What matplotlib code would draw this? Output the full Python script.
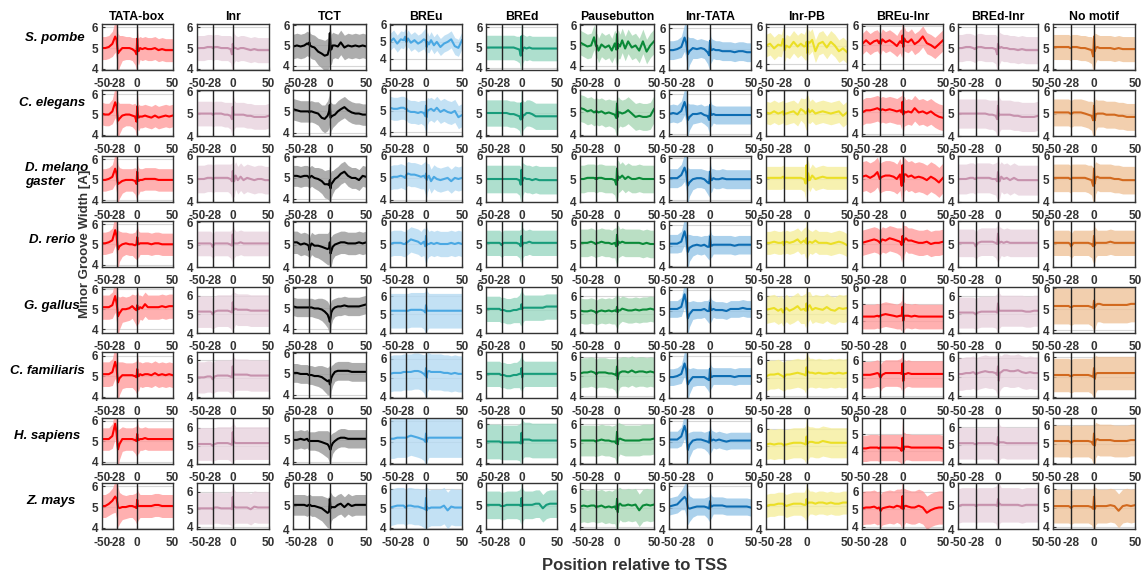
import numpy as np
import matplotlib.pyplot as plt

plt.rcParams['font.family'] = ['Liberation Sans', 'DejaVu Sans']

# Datos: posiciones relativas al TSS (rejilla de lectura)
POS = [-50, -45, -40, -35, -31, -29, -28, -27, -25, -21,
       -16, -11, -7, -3, -1, 0, 1, 2, 4, 7,
       11, 15, 20, 25, 30, 35, 40, 45, 50]

MOTIFS = ['TATA-box', 'Inr', 'TCT', 'BREu', 'BREd', 'Pausebutton',
          'Inr-TATA', 'Inr-PB', 'BREu-Inr', 'BREd-Inr', 'No motif']
SPECIES = ['S. pombe', 'C. elegans', 'D. melano\ngaster', 'D. rerio',
           'G. gallus', 'C. familiaris', 'H. sapiens', 'Z. mays']

# anchura media del surco menor, una lista por especie
TATA_BOX = [
    [5.0,5.0,5.05,5.2,5.55,5.4,5.0,4.75,4.85,5.0, 5.0,5.0,4.95,4.85,4.7,5.45,5.0,4.85,5.0,4.95, 5.0,4.95,4.95,5.0,4.9,4.95,4.9,4.9,4.9],
    [5.05,5.0,5.0,5.15,5.6,5.4,5.0,4.7,4.8,4.95, 5.0,5.0,4.95,4.9,4.65,5.4,5.0,4.85,4.9,4.9, 4.95,4.9,4.85,4.95,4.85,4.9,4.95,4.9,4.95],
    [5.0,5.0,5.05,5.15,5.55,5.3,4.95,4.8,4.85,4.95, 5.0,5.0,5.0,4.95,4.8,5.4,5.0,4.95,5.0,5.0, 5.05,5.05,5.05,5.05,5.0,5.0,5.0,5.0,5.0],
    [5.05,5.05,5.1,5.2,5.7,5.4,5.0,4.75,4.9,5.0, 5.05,5.0,5.0,4.95,5.0,5.35,5.05,5.0,5.05,5.05, 5.05,5.05,5.0,5.05,5.05,5.0,5.0,5.0,5.0],
    [5.1,5.1,5.1,5.2,5.65,5.3,5.0,4.65,4.8,5.0, 5.0,5.05,5.15,5.0,4.95,5.2,5.05,5.0,5.1,5.05, 5.25,5.1,5.1,5.1,5.1,5.15,5.1,5.15,5.15],
    [5.1,5.1,5.1,5.2,5.7,5.4,5.0,4.7,4.9,5.05, 5.05,5.05,5.05,5.0,4.95,5.35,5.05,5.0,5.1,5.05, 5.1,5.1,5.05,5.15,5.05,5.1,5.05,5.1,5.05],
    [5.1,5.1,5.1,5.25,5.85,5.4,4.95,4.6,4.85,5.1, 5.1,5.1,5.1,5.05,5.0,5.35,5.1,5.05,5.1,5.1, 5.15,5.1,5.1,5.1,5.1,5.1,5.1,5.1,5.1],
    [5.05,5.05,5.15,5.3,5.5,5.4,5.2,5.0,4.95,5.0, 5.0,5.05,5.05,5.0,4.95,5.35,5.05,5.05,5.05,5.05, 5.05,5.05,5.05,5.1,5.1,5.05,5.05,5.05,5.05],
]
INR = [
    [5.0,5.0,5.0,5.05,5.05,5.05,5.0,5.0,5.05,5.05, 5.0,5.0,5.0,4.95,4.7,5.2,5.05,5.0,5.0,4.95, 5.0,5.0,4.95,4.9,4.95,4.9,4.9,4.9,4.9],
    [5.0,5.0,5.0,5.0,5.0,5.0,4.95,4.95,5.0,5.0, 5.0,4.95,4.95,4.9,4.75,5.3,5.0,4.95,4.95,4.95, 4.95,4.95,4.9,4.9,4.85,4.85,4.85,4.85,4.9],
    [5.0,5.0,5.0,5.05,5.05,5.05,5.0,5.0,5.05,5.05, 5.05,5.05,5.05,5.0,4.9,5.35,5.1,4.9,5.15,4.95, 5.1,4.95,5.05,5.0,4.95,5.0,5.0,4.95,4.95],
    [5.05,5.05,5.05,5.05,5.05,5.0,4.9,4.95,5.05,5.05, 5.05,5.05,5.05,5.0,4.95,5.45,5.1,5.05,5.05,5.05, 5.1,5.05,5.05,5.05,5.05,5.05,5.05,5.05,5.05],
    [5.15,5.15,5.15,5.15,5.15,5.1,5.0,5.05,5.15,5.2, 5.2,5.2,5.2,5.15,5.1,5.65,5.3,5.25,5.3,5.25, 5.25,5.25,5.25,5.2,5.2,5.2,5.2,5.2,5.2],
    [5.05,5.05,5.05,5.1,5.1,5.05,4.95,5.0,5.1,5.15, 5.15,5.15,5.15,5.1,5.05,5.65,5.25,5.2,5.2,5.2, 5.2,5.2,5.2,5.15,5.15,5.15,5.15,5.15,5.15],
    [5.1,5.1,5.1,5.1,5.1,5.05,5.0,5.05,5.1,5.15, 5.15,5.15,5.15,5.1,5.05,5.75,5.25,5.2,5.15,5.15, 5.15,5.15,5.15,5.15,5.15,5.15,5.15,5.15,5.15],
    [5.05,5.05,5.05,5.05,5.05,5.05,5.0,5.05,5.1,5.1, 5.05,5.05,5.05,5.05,5.0,5.7,5.2,5.15,5.1,5.1, 5.1,5.1,5.1,5.0,5.15,5.1,5.1,5.1,5.1],
]
TCT = [
    [4.95,5.0,4.95,5.0,5.1,5.05,5.15,5.0,4.95,4.9, 4.7,4.6,4.5,4.55,4.8,5.6,4.95,4.8,5.0,5.0, 4.95,5.15,4.9,5.0,4.95,5.0,4.95,5.0,4.95],
    [5.1,5.05,5.0,5.0,5.0,5.0,4.95,5.0,5.0,4.95, 4.9,4.7,4.65,4.8,5.0,5.3,4.7,4.75,4.8,4.85, 5.0,5.1,5.2,5.05,4.95,4.9,4.9,4.85,4.85],
    [5.1,5.1,5.05,5.1,5.1,5.05,5.0,5.05,5.1,5.0, 4.95,4.85,4.7,4.7,4.65,4.9,4.5,4.7,4.8,4.95, 5.05,5.2,5.3,5.1,5.0,5.0,4.9,5.1,5.05],
    [5.1,5.1,5.0,5.05,5.0,4.95,4.75,4.9,5.05,4.95, 4.95,4.9,4.85,4.8,4.85,5.1,4.6,4.7,4.9,5.0, 5.05,5.1,5.1,5.05,5.05,5.05,5.1,5.05,5.1],
    [5.1,5.05,5.05,5.05,5.05,5.05,5.05,5.05,5.05,5.0, 5.0,4.95,4.85,4.7,4.5,4.35,4.55,4.8,4.95,5.05, 5.1,5.1,5.15,5.1,5.1,5.1,5.1,5.15,5.2],
    [5.05,5.05,5.0,5.0,5.0,4.95,4.95,4.95,4.95,4.9, 4.9,4.85,4.75,4.65,4.7,4.5,4.6,4.8,4.95,5.1, 5.15,5.15,5.15,5.15,5.1,5.1,5.1,5.1,5.1],
    [5.0,5.0,5.05,5.0,5.05,4.95,4.95,4.95,4.95,4.95, 4.95,4.9,4.85,4.8,4.7,4.6,4.55,4.7,4.85,4.95, 5.05,5.1,5.1,5.05,5.05,5.05,5.05,5.05,5.05],
    [5.05,5.05,5.05,5.05,5.0,5.05,5.05,5.05,5.0,5.0, 4.95,4.9,4.8,4.7,4.75,5.3,4.9,4.95,4.95,4.95, 5.05,5.1,4.95,5.1,5.0,5.05,5.05,5.05,5.05],
]
BREU = [
    [5.0,5.2,4.9,5.15,5.1,5.3,5.05,5.0,5.2,4.95, 5.1,4.9,5.0,5.15,5.1,5.0,4.7,5.0,4.85,5.1, 4.8,5.0,4.7,4.9,5.0,5.15,4.75,4.65,5.1],
    [5.15,5.1,5.1,5.15,5.15,5.1,5.1,5.1,5.0,4.95, 4.95,4.9,4.95,4.9,4.75,5.25,4.7,5.0,5.05,5.1, 5.0,5.15,4.95,5.05,4.95,4.9,5.0,4.7,4.8],
    [5.0,5.05,5.05,5.1,5.05,5.0,5.1,5.15,5.2,5.15, 5.15,5.1,5.05,5.1,5.0,5.2,4.9,5.0,5.1,4.85, 5.05,4.95,4.9,4.95,5.0,4.85,5.0,4.95,5.0],
    [5.0,5.05,5.05,5.05,5.0,5.0,5.05,5.05,5.1,5.2, 5.15,5.1,5.0,5.1,4.9,5.35,4.95,5.0,5.0,5.05, 5.0,5.05,5.0,5.0,5.0,5.05,5.0,5.05,5.0],
    [5.2,5.2,5.2,5.2,5.2,5.2,5.2,5.2,5.2,5.25, 5.25,5.25,5.25,5.2,5.1,5.5,5.25,5.2,5.2,5.2, 5.2,5.2,5.2,5.2,5.2,5.2,5.2,5.2,5.2],
    [5.2,5.25,5.25,5.25,5.3,5.3,5.3,5.3,5.3,5.3, 5.35,5.35,5.3,5.2,5.1,5.5,5.0,5.3,5.35,5.3, 5.3,5.3,5.3,5.25,5.25,5.2,5.25,5.2,5.2],
    [5.15,5.15,5.2,5.2,5.2,5.2,5.2,5.2,5.25,5.3, 5.25,5.2,5.15,5.1,5.0,5.4,5.0,5.15,5.2,5.2, 5.2,5.2,5.2,5.2,5.2,5.2,5.2,5.2,5.2],
    [5.05,5.1,5.15,5.15,5.15,5.05,5.05,5.1,5.15,5.15, 5.1,5.1,5.05,5.0,4.95,5.55,4.9,5.05,5.0,5.05, 5.05,5.05,5.05,5.15,4.9,5.1,5.05,5.05,5.05],
]
BRED = [
    [5.0,5.0,5.0,5.0,5.0,5.0,5.0,5.0,5.0,5.0, 5.0,5.0,4.95,4.9,4.6,5.55,4.8,4.95,5.0,4.95, 5.0,4.95,4.95,4.95,4.95,4.95,4.95,4.95,4.95],
    [5.0,5.0,5.0,5.0,5.0,5.0,5.0,5.0,5.0,5.0, 4.95,4.95,4.9,4.85,4.7,5.45,4.75,4.9,4.9,5.0, 5.0,4.95,4.85,4.85,4.85,4.85,4.85,4.85,4.85],
    [5.0,5.0,5.0,5.0,5.0,5.0,5.0,5.0,5.0,5.0, 5.0,5.0,5.0,4.95,4.75,5.4,4.9,5.0,5.05,5.0, 5.0,4.95,5.0,4.95,4.95,4.95,4.95,4.95,4.95],
    [5.05,5.05,5.05,5.05,5.05,5.0,4.95,5.0,5.05,5.05, 5.05,5.05,5.05,5.0,4.9,5.35,4.95,5.05,5.05,5.05, 5.1,5.05,5.05,5.05,5.05,5.05,5.05,5.05,5.05],
    [5.05,5.05,5.05,5.05,5.05,5.0,5.0,5.0,5.0,4.95, 4.95,5.0,5.0,5.05,5.05,5.25,5.05,5.1,5.1,5.1, 5.1,5.1,5.1,5.1,5.1,5.15,5.15,5.15,5.15],
    [5.05,5.05,5.05,5.05,5.05,5.0,5.0,5.0,5.0,4.95, 4.95,5.0,5.0,5.05,5.05,5.3,4.9,5.05,5.05,5.05, 5.05,5.05,5.05,5.05,5.05,5.05,5.05,5.05,5.05],
    [5.1,5.1,5.1,5.1,5.1,5.05,5.05,5.05,5.05,5.05, 5.05,5.05,5.05,5.05,5.0,5.55,5.0,5.2,5.2,5.2, 5.2,5.15,5.15,5.15,5.15,5.15,5.15,5.15,5.15],
    [5.05,5.05,5.05,5.05,5.05,5.0,5.0,5.0,5.0,5.05, 5.05,5.05,5.05,5.05,5.0,5.35,5.0,5.05,5.05,5.05, 5.05,5.05,5.1,5.1,4.9,5.05,5.1,5.1,5.1],
]
PAUSEBUTTON = [
    [5.15,5.05,4.95,5.0,5.4,5.05,4.95,5.0,4.75,5.05, 4.9,5.0,4.75,5.1,4.8,5.55,4.85,5.05,4.95,5.25, 4.85,5.2,4.9,5.0,4.75,5.2,4.7,5.0,5.2],
    [5.2,5.15,5.05,5.1,5.0,5.05,5.0,5.05,5.0,5.05, 4.95,5.0,4.95,4.9,4.75,5.4,4.8,5.0,5.0,4.95, 5.0,5.1,4.95,4.8,4.85,4.8,4.8,4.85,5.15],
    [5.0,5.0,5.05,5.05,5.05,5.0,5.05,5.0,5.05,5.05, 5.0,5.0,5.0,4.95,4.75,5.45,4.95,5.1,5.05,5.15, 5.0,5.1,5.0,5.0,5.05,5.0,5.0,5.0,5.0],
    [5.05,5.05,5.05,5.1,5.05,5.0,5.0,5.05,5.05,5.1, 5.05,5.05,5.0,5.05,4.9,5.4,4.95,5.1,5.05,5.1, 5.05,5.05,5.05,5.05,5.05,5.0,5.05,5.0,5.0],
    [5.2,5.15,5.15,5.2,5.15,5.1,5.05,5.1,5.15,5.2, 5.15,5.2,5.15,5.2,5.15,5.4,5.1,5.2,5.2,5.3, 5.25,5.2,5.2,5.25,5.2,5.25,5.25,5.3,5.25],
    [5.15,5.2,5.2,5.25,5.2,5.15,5.1,5.15,5.2,5.2, 5.2,5.15,5.15,5.1,5.05,5.5,4.85,5.1,5.2,5.25, 5.25,5.2,5.3,5.2,5.25,5.25,5.2,5.25,5.2],
    [5.15,5.15,5.15,5.15,5.15,5.1,5.1,5.15,5.15,5.2, 5.15,5.15,5.1,5.1,5.0,5.6,4.95,5.2,5.25,5.2, 5.15,5.15,5.15,5.15,5.15,5.2,5.2,5.2,5.25],
    [5.1,5.15,5.1,5.15,5.15,5.1,5.05,5.1,5.1,5.15, 5.05,5.1,5.05,5.1,4.95,5.5,4.8,5.15,5.25,5.15, 5.15,5.2,5.15,5.2,4.9,5.15,5.2,5.15,5.2],
]
INR_TATA = [
    [4.95,4.95,5.0,5.1,5.55,5.3,5.0,4.75,4.9,5.05, 5.0,5.05,5.0,4.85,4.7,5.4,4.95,4.95,5.0,4.95, 4.95,4.9,4.9,4.9,4.85,4.9,4.9,4.85,4.85],
    [5.0,5.05,5.0,5.15,5.6,5.3,4.95,4.7,4.85,5.0, 5.0,5.05,4.95,4.9,4.7,5.45,5.0,4.95,5.0,4.95, 4.95,4.95,4.95,4.95,4.95,4.95,4.95,4.95,4.95],
    [5.05,5.05,5.05,5.2,5.55,5.3,4.95,4.7,4.85,5.0, 5.05,5.05,5.0,4.85,4.8,5.35,5.0,4.95,5.05,5.0, 5.0,5.05,5.0,5.0,5.0,5.0,5.0,5.0,5.0],
    [5.1,5.1,5.1,5.2,5.7,5.35,5.0,4.7,4.9,5.0, 5.05,5.0,5.05,4.95,4.95,5.45,5.05,5.0,5.05,5.05, 5.05,5.05,5.05,5.05,5.0,5.05,5.05,5.05,5.05],
    [5.1,5.1,5.1,5.2,5.8,5.4,5.0,4.65,4.85,5.05, 5.05,5.05,5.1,5.0,5.0,5.4,5.05,5.05,5.1,5.05, 5.05,5.05,5.0,5.1,5.1,5.1,5.15,5.1,5.1],
    [5.0,5.0,5.05,5.15,5.65,5.35,4.95,4.65,4.8,5.0, 5.0,5.0,5.0,4.9,4.85,5.4,5.0,5.0,5.05,5.05, 5.05,5.05,5.05,5.05,5.0,5.05,5.05,5.05,5.05],
    [5.1,5.1,5.1,5.25,5.75,5.45,5.0,4.6,4.85,5.05, 5.1,5.1,5.05,5.0,4.95,5.45,5.05,5.05,5.1,5.05, 5.1,5.05,5.0,5.05,5.05,5.05,5.05,5.05,5.05],
    [5.05,5.1,5.15,5.35,5.5,5.4,5.2,5.0,4.95,5.0, 5.05,5.05,5.05,5.0,4.95,5.3,5.05,5.05,5.1,5.1, 5.1,5.1,5.05,5.05,5.05,5.05,5.05,5.05,5.0],
]
INR_PB = [
    [5.0,5.1,4.85,5.05,5.0,5.35,5.2,4.75,5.0,4.9, 5.2,4.95,5.1,4.95,5.0,5.2,4.6,5.2,5.15,5.3, 4.7,5.1,5.2,4.9,5.2,5.0,4.7,4.85,4.65],
    [5.05,5.0,5.1,5.0,5.05,5.1,4.95,5.0,5.0,5.05, 5.1,4.95,5.2,5.1,5.0,5.05,5.1,5.2,5.05,5.15, 5.0,5.05,5.1,5.05,5.0,5.05,5.1,4.9,5.05],
    [5.05,5.05,5.05,5.05,5.05,5.1,5.05,5.05,5.05,5.05, 5.05,5.05,5.05,5.0,4.8,5.6,4.9,5.25,4.95,5.15, 5.0,5.05,5.1,5.05,5.05,5.05,5.05,5.05,5.05],
    [5.05,5.05,5.1,5.05,5.05,5.1,4.95,5.05,5.1,5.05, 5.1,5.2,5.05,5.15,5.05,5.25,5.0,5.05,5.1,5.05, 5.15,5.05,5.05,5.05,5.0,5.05,5.1,5.05,4.95],
    [5.25,5.3,5.35,5.2,5.3,5.1,5.2,5.25,5.35,5.2, 5.3,5.45,5.25,5.3,5.2,5.6,5.2,5.4,5.5,5.25, 5.35,5.3,5.25,5.4,5.25,5.2,5.35,5.3,5.35],
    [5.1,5.2,5.2,5.25,5.15,5.1,5.05,5.1,5.2,5.2, 5.25,5.3,5.25,5.2,5.15,5.6,5.4,5.35,5.3,5.3, 5.25,5.3,5.25,5.25,5.3,5.25,5.3,5.25,5.3],
    [5.1,5.15,5.1,5.15,5.15,5.1,5.05,5.1,5.1,5.15, 5.2,5.2,5.2,5.15,5.1,5.55,5.15,5.2,5.25,5.25, 5.2,5.2,5.3,5.25,5.2,5.2,5.2,5.2,5.2],
    [5.0,5.05,5.05,5.1,5.1,5.1,5.05,5.05,5.0,5.05, 5.1,5.1,5.1,5.05,5.05,5.3,5.1,5.15,5.15,5.15, 5.1,5.15,5.15,5.1,5.15,5.1,5.1,5.15,5.15],
]
BREU_INR = [
    [5.05,5.25,5.05,5.2,5.25,5.1,5.2,5.05,5.3,5.15, 5.25,5.1,4.95,5.2,5.1,5.5,4.9,5.35,5.2,5.15, 5.3,5.05,5.2,5.45,5.1,5.0,4.85,5.05,5.25],
    [5.0,5.1,5.1,5.15,5.2,5.15,5.15,5.1,5.15,5.1, 5.15,5.1,5.05,5.1,5.0,5.5,4.9,5.05,5.0,5.05, 5.0,5.2,5.0,5.05,4.95,5.05,4.9,4.8,4.75],
    [5.1,5.15,5.05,5.15,5.3,5.1,5.0,5.05,5.1,5.15, 5.15,5.1,5.0,5.2,4.7,5.6,4.85,5.2,5.2,5.1, 5.15,5.05,5.1,5.05,4.95,5.1,5.0,4.85,5.05],
    [5.05,5.1,5.15,5.2,5.15,5.1,5.05,5.1,5.2,5.15, 5.25,5.2,5.15,5.1,4.95,5.35,5.05,5.15,5.25,5.15, 5.15,5.1,5.05,5.05,5.1,5.0,5.05,5.05,5.1],
    [4.25,4.25,4.25,4.25,4.3,4.25,4.3,4.3,4.35,4.4, 4.35,4.3,4.25,4.3,4.3,4.85,4.0,4.3,4.3,4.3, 4.25,4.3,4.25,4.25,4.25,4.25,4.25,4.25,4.25],
    [5.2,5.2,5.2,5.25,5.3,5.25,5.1,5.05,5.2,5.3, 5.3,5.3,5.3,5.3,5.25,5.85,4.85,5.25,5.25,5.3, 5.25,5.25,5.25,5.25,5.25,5.25,5.25,5.25,5.25],
    [4.15,4.15,4.2,4.2,4.2,4.15,4.2,4.2,4.2,4.2, 4.2,4.2,4.2,4.15,4.0,4.8,4.05,4.25,4.25,4.25, 4.2,4.2,4.2,4.2,4.2,4.2,4.2,4.2,4.15],
    [5.05,5.1,5.1,5.15,5.05,5.1,5.0,4.9,5.05,5.1, 5.15,5.1,5.2,5.15,5.05,5.75,5.0,5.15,5.2,5.15, 5.1,5.1,5.2,5.1,4.8,4.95,5.05,5.1,5.1],
]
BRED_INR = [
    [5.0,5.0,5.05,5.05,5.0,4.95,5.0,5.0,5.05,5.05, 5.0,5.0,5.0,4.95,4.7,5.2,5.05,5.0,5.05,5.0, 5.0,4.95,4.95,4.9,4.95,4.9,4.9,4.9,4.9],
    [5.0,5.0,5.0,5.0,5.0,5.0,5.0,5.0,5.0,5.0, 5.0,4.95,4.95,4.9,4.75,5.35,4.9,4.95,4.95,4.95, 4.95,4.95,4.9,4.9,4.85,4.85,4.85,4.85,4.9],
    [5.0,5.0,5.0,5.05,5.05,5.0,5.0,5.05,5.05,5.05, 5.05,5.05,5.0,5.0,4.9,5.3,5.0,4.9,5.1,5.0, 5.05,4.95,5.05,4.95,4.95,4.95,4.95,4.95,4.95],
    [5.05,5.05,5.05,5.05,5.05,5.0,4.9,4.95,5.05,5.1, 5.1,5.1,5.1,5.05,5.0,5.45,5.1,5.05,5.1,5.05, 5.1,5.05,5.05,5.05,5.05,5.05,5.05,5.05,5.05],
    [5.1,5.1,5.1,5.1,5.1,5.05,5.0,5.05,5.1,5.15, 5.15,5.15,5.15,5.15,5.1,5.6,5.25,5.2,5.2,5.2, 5.2,5.2,5.2,5.2,5.2,5.15,5.15,5.2,5.2],
    [5.15,5.15,5.2,5.2,5.25,5.2,5.15,5.15,5.2,5.25, 5.3,5.25,5.25,5.2,5.1,5.55,4.8,5.2,5.25,5.35, 5.35,5.3,5.3,5.35,5.25,5.2,5.25,5.2,5.2],
    [5.1,5.1,5.1,5.1,5.1,5.05,5.05,5.05,5.1,5.1, 5.1,5.1,5.1,5.05,5.0,5.45,5.1,5.15,5.15,5.15, 5.1,5.1,5.1,5.1,5.1,5.1,5.1,5.1,5.1],
    [5.0,5.05,5.05,5.05,5.05,5.05,5.0,5.0,5.05,5.05, 5.05,5.05,5.05,5.05,5.0,5.3,5.05,5.1,5.05,5.05, 5.05,5.05,5.05,5.05,5.0,5.05,5.05,5.05,5.05],
]
NO_MOTIF = [
    [5.05,5.05,5.05,5.05,5.05,5.0,5.0,5.05,5.05,5.05, 5.0,5.0,4.95,4.9,4.6,5.55,4.85,5.0,5.05,5.0, 5.0,5.0,5.0,4.95,5.0,4.95,4.95,4.95,4.95],
    [5.05,5.05,5.05,5.05,5.05,5.0,5.0,5.0,5.05,5.05, 5.05,5.0,4.95,4.9,4.7,5.35,4.7,4.95,5.0,5.0, 5.0,4.95,4.95,4.95,4.9,4.9,4.85,4.85,4.85],
    [5.05,5.05,5.05,5.05,5.05,5.0,5.0,5.05,5.05,5.05, 5.05,5.05,5.0,4.95,4.7,5.45,4.8,5.05,5.1,5.05, 5.05,5.05,5.05,5.0,5.0,4.95,4.95,4.95,4.95],
    [5.05,5.05,5.05,5.05,5.05,5.0,4.9,4.95,5.05,5.05, 5.05,5.05,5.05,5.0,4.9,5.35,4.95,5.05,5.05,5.05, 5.05,5.05,5.1,5.05,5.05,5.05,5.05,5.05,5.05],
    [5.15,5.15,5.15,5.15,5.15,5.1,5.1,5.1,5.15,5.15, 5.15,5.15,5.15,5.1,5.05,5.4,5.1,5.15,5.25,5.25, 5.2,5.2,5.2,5.2,5.2,5.2,5.2,5.25,5.25],
    [5.1,5.1,5.1,5.1,5.1,5.05,5.05,5.05,5.1,5.1, 5.1,5.1,5.1,5.05,5.0,5.45,4.9,5.15,5.2,5.2, 5.2,5.2,5.2,5.2,5.2,5.2,5.2,5.2,5.2],
    [5.15,5.15,5.15,5.15,5.15,5.1,5.05,5.1,5.15,5.15, 5.15,5.15,5.15,5.1,4.95,5.55,4.9,5.2,5.25,5.2, 5.2,5.2,5.2,5.15,5.15,5.15,5.15,5.2,5.2],
    [5.1,5.1,5.1,5.1,5.1,5.05,5.0,5.05,5.1,5.1, 5.1,5.1,5.1,5.05,4.95,5.6,4.95,5.1,5.1,5.1, 5.1,5.1,5.15,5.1,4.85,5.1,5.15,5.1,5.15],
]
MEANS = [TATA_BOX, INR, TCT, BREU, BRED, PAUSEBUTTON,
         INR_TATA, INR_PB, BREU_INR, BRED_INR, NO_MOTIF]

# semiancho de la banda (desviacion), base por especie
BAND_BASE = [
    [0.55, 0.55, 0.55, 0.55, 0.6, 0.6, 0.55, 0.55],
    [0.6, 0.55, 0.6, 0.55, 0.85, 0.85, 0.9, 0.9],
    [0.6, 0.5, 0.5, 0.5, 0.45, 0.45, 0.42, 0.45],
    [0.5, 0.55, 0.55, 0.55, 0.95, 0.95, 0.95, 0.95],
    [0.6, 0.6, 0.6, 0.55, 0.55, 0.55, 0.9, 0.6],
    [0.6, 0.6, 0.6, 0.6, 0.7, 0.75, 0.8, 0.85],
    [0.45, 0.45, 0.45, 0.45, 0.4, 0.4, 0.4, 0.4],
    [0.6, 0.5, 0.5, 0.5, 0.75, 0.8, 0.85, 0.5],
    [0.55, 0.6, 0.65, 0.55, 0.75, 0.75, 0.8, 0.95],
    [0.65, 0.65, 0.65, 0.6, 0.85, 0.85, 0.9, 0.75],
    [0.6, 0.6, 0.6, 0.55, 0.85, 0.85, 0.85, 0.9],
]
# ensanchamiento local de la banda
EXTRA_TATA = [0,0,0,0.05,0.2,0.4,0.5,0.4,0.2,0.05, 0,0,0,0.1,0.2,0.3,0.2,0.1,0,0, 0,0,0,0,0,0,0,0,0]
EXTRA_TCT = [0,0,0,0,0,0,0,0,0,0, 0.05,0.1,0.15,0.2,0.25,0.3,0.25,0.15,0.05,0, 0,0,0,0,0,0,0,0,0]
EXTRA_TSS = [0,0,0,0,0,0,0,0,0,0, 0,0,0,0.05,0.2,0.3,0.25,0.1,0,0, 0,0,0,0,0,0,0,0,0]
EXTRAS = [EXTRA_TATA, EXTRA_TSS, EXTRA_TCT, EXTRA_TSS, EXTRA_TSS, EXTRA_TSS,
          EXTRA_TATA, EXTRA_TSS, EXTRA_TSS, EXTRA_TSS, EXTRA_TSS]

YLIMS = [
    [(3.95,6.15),(3.95,6.15),(3.8,6.05),(3.35,6.05),(3.9,6.15),(3.8,6.05),(4.0,6.2),(3.7,6.15),(3.7,6.1),(3.95,6.15),(3.95,6.15)],
    [(3.95,6.2),(4.0,6.05),(3.85,6.0),(3.8,6.0),(3.95,6.05),(3.95,6.0),(3.9,6.2),(4.0,6.05),(3.9,6.05),(4.0,6.05),(4.0,6.05)],
    [(3.92,6.17),(4.0,6.0),(3.85,6.05),(3.9,6.0),(4.0,6.0),(4.0,6.0),(3.92,6.1),(4.0,6.0),(4.0,6.0),(4.0,6.0),(4.0,6.0)],
    [(3.88,6.15),(4.0,6.05),(4.0,6.05),(4.0,6.0),(4.0,6.0),(4.0,6.0),(3.97,6.2),(4.0,6.0),(4.0,6.0),(4.0,6.0),(4.0,6.0)],
    [(3.82,6.1),(4.0,6.47),(3.8,6.05),(3.98,6.5),(4.0,6.0),(3.95,6.5),(3.95,6.15),(3.98,6.5),(3.25,6.05),(3.98,6.5),(3.87,6.05)],
    [(3.94,6.18),(3.93,6.43),(3.85,6.05),(3.93,6.35),(4.0,6.0),(3.9,6.24),(4.0,6.2),(3.9,6.45),(3.89,6.49),(3.9,6.3),(3.93,6.27)],
    [(3.88,6.13),(4.0,6.53),(3.9,6.0),(3.93,6.15),(3.93,6.32),(3.93,6.32),(3.93,6.13),(4.0,6.6),(3.2,6.0),(3.92,6.53),(3.92,6.38)],
    [(3.95,6.15),(3.87,6.5),(4.0,6.0),(3.93,6.33),(4.0,6.0),(3.92,6.33),(4.0,6.15),(4.0,6.0),(3.87,6.5),(4.0,6.0),(3.88,6.33)],
]

LINE_COLORS = ['#ff0000', '#c792ad', '#000000', '#4aa8e3', '#179c7b', '#0a8a38',
               '#0d6db3', '#ebdf25', '#ff0000', '#c792ad', '#d2691e']
BAND_COLORS = ['#ff9c9c', '#e8d3de', '#999999', '#b5daf2', '#9ad8c2', '#a9d8b6',
               '#96c6e8', '#f5ee9c', '#ff9c9c', '#e8d3de', '#efc39a']

# disposicion en pixeles
W, H = 1144, 578
COL_LEFT = [101.7, 196.7, 293.3, 390, 486, 580, 669, 766, 862, 958, 1053]
COL_W = [71, 72, 73, 72, 71, 74, 82, 81, 81, 80, 82]
ROW_TOP = [24, 90, 156, 221, 287, 352, 418, 483]
ROW_H = 46
LABEL_X = [55, 52, 57, 52, 52, 47, 47, 51]
LABEL_Y = [38, 103, 175, 240, 306, 371, 436, 501]

fig = plt.figure(figsize=(W / 100, H / 100), dpi=100)
pos = np.array(POS)

for i, sp in enumerate(SPECIES):
    for j, motif in enumerate(MOTIFS):
        ax = fig.add_axes([COL_LEFT[j] / W, 1 - (ROW_TOP[i] + ROW_H) / H,
                           COL_W[j] / W, ROW_H / H])
        mean = np.array(MEANS[j][i])
        hw = BAND_BASE[j][i] + np.array(EXTRAS[j])
        ax.fill_between(pos, mean - hw, mean + hw, color=BAND_COLORS[j], lw=0, alpha=0.8)
        ax.plot(pos, mean, color=LINE_COLORS[j], lw=1.5)
        for xv in (-28, 0):
            ax.axvline(xv, color='#222222', lw=1.0)
        ax.set_xlim(-50, 50)
        ax.set_ylim(*YLIMS[i][j])
        ax.set_xticks([-50, -28, 0, 50])
        ax.set_xticklabels(['-50', '-28', '0', '50'])
        ax.set_yticks([4, 5, 6])
        ax.tick_params(direction='in', length=2, width=0.8,
                       labelsize=8.5, colors='#333333')
        ax.tick_params(axis='x', pad=5.5)
        ax.tick_params(axis='y', pad=2.5)
        for lab in ax.get_xticklabels() + ax.get_yticklabels():
            lab.set_fontweight('bold')
        ax.yaxis.grid(True, color='#d6d6d6', lw=0.8)
        ax.set_axisbelow(True)
        for s in ax.spines.values():
            s.set_color('#333333')
            s.set_linewidth(1.0)
        if i == 0:
            ax.set_title(motif, fontsize=8.8, fontweight='bold', pad=3)
    fig.text(LABEL_X[i] / W, 1 - LABEL_Y[i] / H, sp, ha='center', va='center',
             multialignment='left', fontsize=9.5, fontweight='bold', style='italic')

fig.text(85 / W, 1 - 244 / H, 'Minor Groove Width [A]', rotation=90, ha='center',
         va='center', fontsize=9.5, fontweight='bold', color='#333333')
fig.text(635 / W, 1 - 565 / H, 'Position relative to TSS', ha='center', va='center',
         fontsize=12, fontweight='bold', color='#333333')

fig.savefig('out.png', dpi=100)
